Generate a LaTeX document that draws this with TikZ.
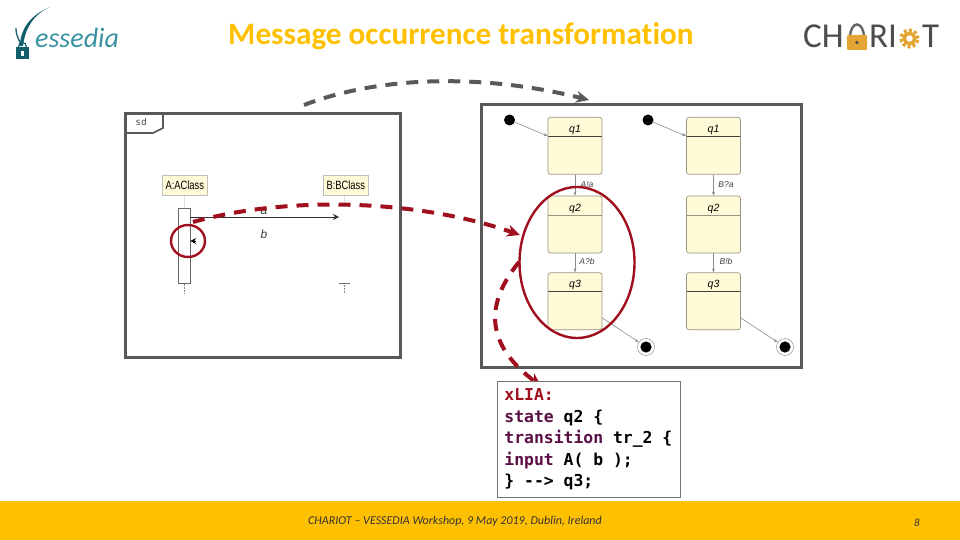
\documentclass[tikz,border=0pt]{standalone}
\usepackage{fontspec}
\setmainfont{Carlito}
\newfontfamily\umlfont{Liberation Sans}
\newfontfamily\codefont{DejaVu Sans Mono}
\usetikzlibrary{arrows.meta,positioning,shapes.geometric}

\definecolor{frameGray}{HTML}{595959}
\definecolor{titleYellow}{HTML}{FFC000}
\definecolor{markRed}{HTML}{A00F1E}
\definecolor{stateFill}{HTML}{FFFBD8}
\definecolor{stateEdge}{HTML}{9A9484}
\definecolor{logoTeal}{HTML}{3A93A0}
\definecolor{logoDark}{HTML}{125E6C}
\definecolor{logoGold}{HTML}{E3A534}
\definecolor{codeKey}{HTML}{5A0F45}

\tikzstyle{every node}=[inner sep=0pt]
\tikzstyle{frame}=[draw=frameGray, line width=3pt, fill=white]
\tikzstyle{state}=[draw=stateEdge, fill=stateFill, rounded corners=2.5pt, line width=0.7pt,
    minimum width=54pt, text height=15pt, text depth=42pt, font={\umlfont\itshape\fontsize{10.5}{12}\selectfont},
    path picture={\draw [black!75, line width=0.8pt] ([yshift=-19pt]path picture bounding box.north west) -- ([yshift=-19pt]path picture bounding box.north east);}]
\tikzstyle{state two}=[state,
    path picture={\draw [stateEdge, line width=0.6pt] ([yshift=-19pt]path picture bounding box.north west) -- ([yshift=-19pt]path picture bounding box.north east);}]
\tikzstyle{start}=[circle, fill=black, minimum size=11pt]
\tikzstyle{stop}=[circle, draw=black!50, fill=white, line width=0.4pt, minimum size=17pt, path picture={\fill [black] (path picture bounding box.center) circle (5.6pt);}]
\tikzstyle{edge}=[draw=black!45, line width=0.6pt, -{Stealth[length=4pt,width=3pt]}]
\tikzstyle{guard}=[font={\umlfont\itshape\fontsize{8.5}{9}\selectfont}, text=black!75]
\tikzstyle{object}=[draw=black!25, line width=0.5pt, fill=stateFill, minimum width=45pt, minimum height=20pt, font={\umlfont\fontsize{12}{13}\selectfont\addfontfeatures{FakeStretch=0.78}}]
\tikzstyle{lifeline}=[draw=black!45, densely dotted, line width=0.5pt]
\tikzstyle{msg}=[font={\umlfont\itshape\fontsize{12}{13}\selectfont}, text=black!75]
\tikzstyle{redring}=[draw=markRed, line width=2.4pt, ellipse]
\tikzstyle{flow}=[line width=4pt, dash pattern=on 12pt off 9pt, -{Stealth[length=13pt,width=12pt]}]

\begin{document}
\begin{tikzpicture}[x=1pt,y=-1pt]
    \useasboundingbox (0,0) rectangle (960,540);

    % footer and title
    \fill [titleYellow] (0,501) rectangle (960,540);
    \node (title) at (461,36.5) {\fontsize{31.2}{35}\selectfont\bfseries\addfontfeatures{Ligatures=NoCommon}\textcolor{titleYellow}{Message occurrence transformation}};
    \node (event) [anchor=west] at (308,521) {\fontsize{12}{14}\selectfont\itshape\textcolor{black!80}{CHARIOT – VESSEDIA Workshop, 9 May 2019, Dublin, Ireland}};
    \node (pagenum) at (917,523) {\fontsize{11}{13}\selectfont\itshape\textcolor{black!80}{8}};

    % vessedia logo
    \node (vessedia) [anchor=west] at (35,38) {\fontsize{28}{32}\selectfont\itshape\textcolor{logoTeal}{essedia}};
    \fill [logoDark] (50,7) .. controls (34,14) and (25,28) .. (23,46) -- (20,46) .. controls (20,30) and (30,15) .. (50,7);
    \draw [logoDark, line width=1.3pt] (16,28) .. controls (16,36) and (19,40) .. (22,46);
    \fill [logoDark] (16,47) rectangle (29,59);
    \draw [logoDark, line width=1.2pt] (18.5,47) .. controls (18.5,41) and (26.5,41) .. (26.5,47);
    \fill [white] (21,51) rectangle (24,56);

    % chariot logo
    \node (chariotA) [anchor=west] at (803,36.5) {\fontsize{35}{38}\selectfont\textcolor{black!70}{CH}};
    \node (chariotB) [anchor=west] at (869,36.5) {\fontsize{35}{38}\selectfont\textcolor{black!70}{RI}};
    \node (chariotC) [anchor=west] at (922,36.5) {\fontsize{35}{38}\selectfont\textcolor{black!70}{T}};
    \draw [black!60, line width=2.4pt] (850,38) .. controls (850,20) and (864,20) .. (864,38);
    \fill [logoGold, rounded corners=1pt] (847,35) rectangle (867,50);
    \fill [black!70] (857,42.5) circle (1.8pt);
    \draw [logoGold, line width=3.6pt, dash pattern=on 3pt off 2.2pt] (909.5,38.5) circle (8.2pt);
    \draw [logoGold, line width=3.4pt] (909.5,38.5) circle (5.2pt);

    % left frame, sequence diagram
    \node (seqframe) [frame, minimum width=275pt, minimum height=244pt, anchor=north west] at (124,112) {};
    \draw [frameGray, line width=1.6pt] (125,133) -- (153,133) -- (163,128) -- (163,113);
    \node (sd) at (141,122) {\codefont\fontsize{9.5}{10}\selectfont\textcolor{black!70}{sd}};

    \node (objA) [object, anchor=north west] at (162,175) {A:AClass};
    \node (objB) [object, anchor=north west] at (323,175) {B:BClass};
    \node (activation) [draw=black!60, fill=white, line width=0.6pt, minimum width=12pt, minimum height=75pt, anchor=north] at (184,208) {};
    \coordinate (endA) at (184,293);
    \coordinate (midB) at (344,203);
    \coordinate (tickB) at (344,283);
    \coordinate (endB) at (344,293);
    \draw [lifeline] (objA) -- (activation);
    \draw [lifeline] (activation) -- (endA);
    \draw [lifeline] (objB) -- (midB);
    \draw [lifeline] (tickB) -- (endB);
    \draw [black!55, line width=0.6pt] (339,283) -- (350,283);

    \coordinate (msgEnd) at (339,217);
    \coordinate (replyTip) at (190.5,241);
    \coordinate (replyTail) at (196,241);
    \draw [black!80, line width=0.7pt, -{Stealth[length=6pt,width=6pt]}] (activation.east |- msgEnd) -- (msgEnd);
    \draw [black, line width=0.7pt, -{Stealth[length=5.5pt,width=6pt]}] (replyTail) -- (replyTip);
    \node (labelA) [msg] at (264,211) {a};
    \node (labelB) [msg] at (264,234) {b};

    % right frame, state machines
    \node (smframe) [frame, minimum width=320pt, minimum height=263pt, anchor=north west] at (480,103) {};

    \node (q1l) [state, anchor=north] at (575,117) {q1};
    \node (q2l) [state two, below=21pt of q1l] {q2};
    \node (q3l) [state, below=19pt of q2l] {q3};
    \node (q1r) [state, anchor=north] at (713.5,117) {q1};
    \node (q2r) [state two, below=21pt of q1r] {q2};
    \node (q3r) [state, below=19pt of q2r] {q3};

    \node (startl) [start] at (509.5,120) {};
    \node (startr) [start] at (648,120) {};
    \node (stopl) [stop] at (646,347) {};
    \node (stopr) [stop] at (785,347) {};

    \draw [edge] (startl) -- (q1l.west |- 0,136);
    \draw [edge] (startr) -- (q1r.west |- 0,136);
    \draw [edge] (q1l) -- (q2l);
    \draw [edge] (q2l) -- (q3l);
    \draw [edge] (q1r) -- (q2r);
    \draw [edge] (q2r) -- (q3r);
    \draw [edge] (q3l.east |- 0,318) -- (stopl);
    \draw [edge] (q3r.east |- 0,318) -- (stopr);

    \node (guard1) [guard] at (587,184.5) {A!a};
    \node (guard2) [guard] at (587,261.5) {A?b};
    \node (guard3) [guard] at (726,184.5) {B?a};
    \node (guard4) [guard] at (726,261.5) {B!b};

    % red marks
    \node (ringA) [redring, minimum width=34pt, minimum height=32pt] at (188,241) {};
    \node (ringB) [redring, minimum width=115pt, minimum height=151pt] at (577,262.5) {};

    % dashed arrows
    \coordinate (seqTop) at (304,105);
    \coordinate (smTop) at (589,100);
    \coordinate (seqMsg) at (193,222);
    \coordinate (smState) at (520,235);
    \coordinate (smBelow) at (519,262);
    \coordinate (xliaTop) at (541,386);
    \draw [flow, draw=frameGray] (seqTop) .. controls (385,74) and (490,75) .. (smTop);
    \draw [flow, draw=markRed] (seqMsg) .. controls (290,195) and (420,200) .. (smState);
    \draw [flow, draw=markRed] (smBelow) .. controls (484,305) and (486,345) .. (xliaTop);

    % code box
    \node (xlia) [draw=black!55, fill=white, line width=0.8pt, anchor=north west, minimum width=183pt, minimum height=116pt, text width=169pt, align=flush left, inner xsep=7pt,
        font={\codefont\fontsize{16.4}{21.6}\selectfont\bfseries}] at (497,381) {%
        \textcolor{markRed}{xLIA:}\\
        \textcolor{codeKey}{state} q2 \{\\
        \textcolor{codeKey}{transition} tr\_2 \{\\
        \textcolor{codeKey}{input} A( b );\\
        \} --> q3;};
\end{tikzpicture}
\end{document}
